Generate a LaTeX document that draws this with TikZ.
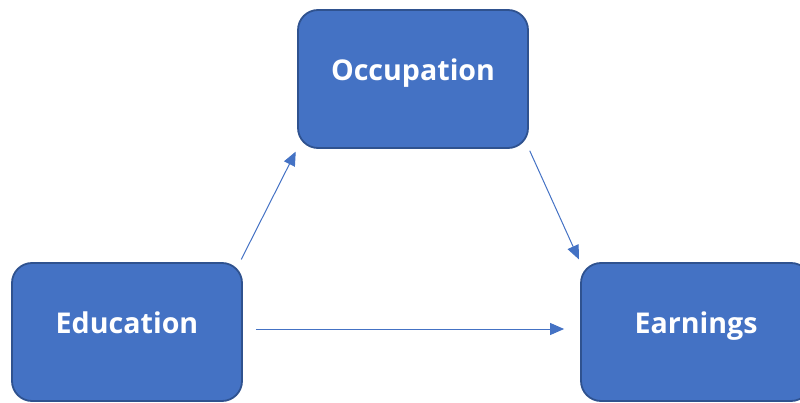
\documentclass[tikz,border=0pt]{standalone}
\usepackage{fontspec}
\setmainfont{Open Sans}
\usetikzlibrary{arrows.meta}
\definecolor{boxfill}{HTML}{4472C4}
\definecolor{boxline}{HTML}{2F528F}
\tikzset{
  box/.style={draw=boxline, line width=1.8pt, fill=boxfill, rounded corners=20pt,
    minimum width=230pt, minimum height=138pt, inner sep=0pt,
    text=white, font=\fontsize{28.6}{32}\selectfont\bfseries},
  conn/.style={draw=boxfill, line width=1pt, -{Triangle[length=14pt,width=12pt]}}
}
\begin{document}
\begin{tikzpicture}[x=1pt,y=-1pt]
\useasboundingbox (0,0) rectangle (800,403);
\clip (0,0) rectangle (800,403);
\node[box] (occ) at (413,79) {\raisebox{18pt}{Occupation}};
\node[box] (edu) at (127,332) {\raisebox{18pt}{Education}};
\node[box] (earn) at (696,332) {\raisebox{18pt}{Earnings}};
\draw[conn, shorten <=3pt, shorten >=3pt] ([xshift=-3pt]edu.north east) -- (occ.south west);
\draw[conn, shorten <=2pt, shorten >=3pt] (occ.south east) -- (earn.north west);
\draw[conn, shorten <=13pt, shorten >=16pt] ([yshift=3pt]edu.east) -- ([yshift=3pt]earn.west);
\end{tikzpicture}
\end{document}
